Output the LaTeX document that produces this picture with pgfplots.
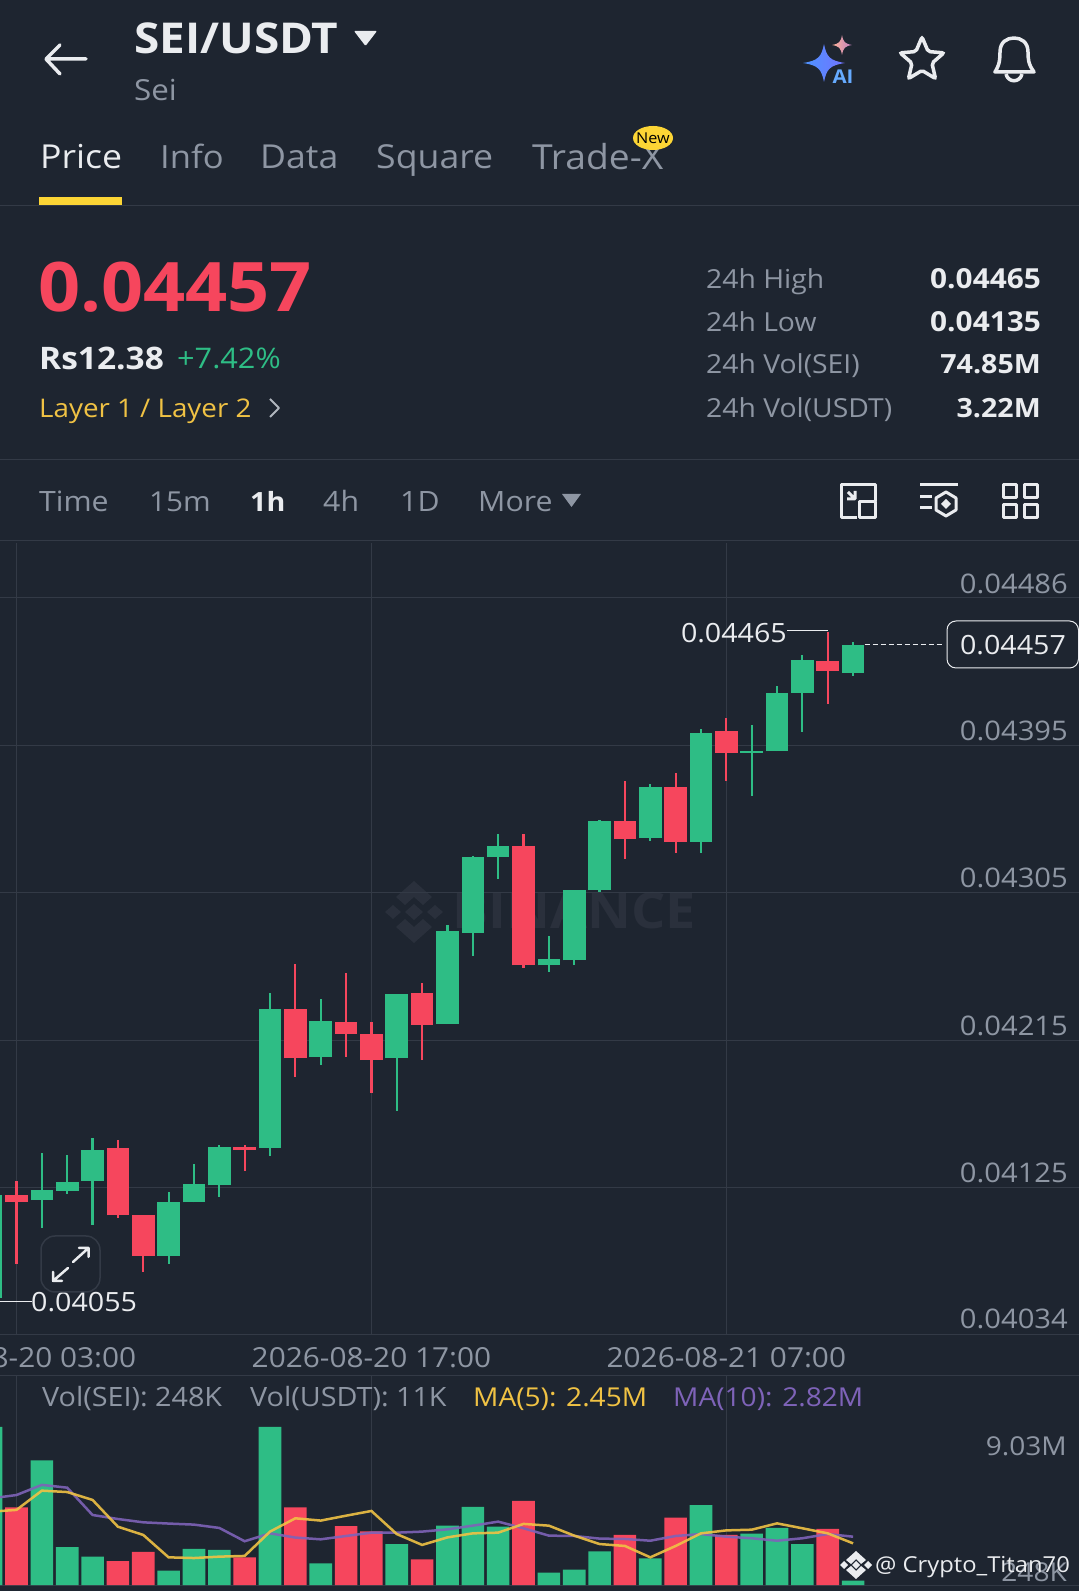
\documentclass[border=0pt]{standalone}
\usepackage{fontspec}
\setmainfont{Open Sans}[FakeStretch=1.08]
\usepackage{pgfplots}
\usepackage{pgfplotstable}
\pgfplotsset{compat=1.18}
\usetikzlibrary{shapes.geometric}
\definecolor{bg}{HTML}{1E2530}
\definecolor{gridc}{HTML}{333A46}
\definecolor{up}{HTML}{2EBD85}
\definecolor{dn}{HTML}{F6465D}
\definecolor{gr}{HTML}{8E96A3}
\definecolor{wh}{HTML}{EAECEF}
\definecolor{yel}{HTML}{FCD535}
\definecolor{gold}{HTML}{F0C244}
\definecolor{pur}{HTML}{7E63B8}
\definecolor{wm}{HTML}{2A303C}
\newcommand\txt[6]{\node[anchor=#1,inner sep=0pt,text=#5,font=\fontsize{#4}{#4}\selectfont] at (#2,{#3+0.357*#4}) {#6};}
\newcommand\btxt[6]{\node[anchor=#1,inner sep=0pt,text=#5,font=\fontsize{#4}{#4}\selectfont\bfseries] at (#2,{#3+0.357*#4}) {#6};}
\newcommand\spark[5]{\shade[#5] (#1,#2-#4) .. controls (#1+0.12*#3,#2-0.3*#4) and (#1+0.3*#3,#2-0.12*#4) .. (#1+#3,#2) .. controls (#1+0.3*#3,#2+0.12*#4) and (#1+0.12*#3,#2+0.3*#4) .. (#1,#2+#4) .. controls (#1-0.12*#3,#2+0.3*#4) and (#1-0.3*#3,#2+0.12*#4) .. (#1-#3,#2) .. controls (#1-0.3*#3,#2-0.12*#4) and (#1-0.12*#3,#2-0.3*#4) .. cycle;}
\pgfplotstableread{
i low bot top high
0 0.040550 0.040564 0.041199 0.041199
2 0.040994 0.041167 0.041228 0.041456
3 0.041206 0.041225 0.041276 0.041446
4 0.041016 0.041286 0.041475 0.041549
7 0.040776 0.040827 0.041154 0.041215
8 0.041154 0.041154 0.041266 0.041388
9 0.041186 0.041257 0.041494 0.041504
11 0.041436 0.041488 0.042337 0.042437
13 0.041997 0.042045 0.042267 0.042398
16 0.041715 0.042036 0.042430 0.042430
18 0.042247 0.042247 0.042818 0.042856
19 0.042667 0.042808 0.043270 0.043280
20 0.043139 0.043270 0.043341 0.043411
22 0.042568 0.042606 0.042648 0.042786
23 0.042610 0.042638 0.043071 0.043071
24 0.043058 0.043068 0.043491 0.043498
26 0.043369 0.043389 0.043703 0.043716
28 0.043296 0.043366 0.044030 0.044059
30 0.043648 0.043911 0.043924 0.044078
31 0.043921 0.043921 0.044280 0.044318
32 0.044039 0.044280 0.044482 0.044511
34 0.044379 0.044402 0.044570 0.044588
}\candleup
\pgfplotstableread{
i low bot top high
1 0.040776 0.041154 0.041199 0.041286
5 0.041058 0.041074 0.041488 0.041536
6 0.040725 0.040827 0.041074 0.041074
10 0.041343 0.041475 0.041494 0.041504
12 0.041924 0.042036 0.042337 0.042616
14 0.042045 0.042186 0.042257 0.042558
15 0.041827 0.042026 0.042186 0.042257
17 0.042026 0.042244 0.042437 0.042497
21 0.042590 0.042606 0.043341 0.043411
25 0.043257 0.043379 0.043491 0.043738
27 0.043296 0.043366 0.043703 0.043789
29 0.043738 0.043911 0.044043 0.044123
33 0.044209 0.044411 0.044472 0.044650
}\candledn
\pgfplotstableread{
i v
0 9.03
2 7.12
3 2.17
4 1.62
7 0.82
8 2.06
9 2.00
11 9.03
13 1.24
16 2.34
18 3.39
19 4.46
20 3.33
22 0.70
23 0.88
24 1.92
26 1.52
28 4.57
30 2.93
31 3.26
32 2.34
34 0.248
}\volup
\pgfplotstableread{
i v
1 4.44
5 1.37
6 1.89
10 1.58
12 4.44
14 3.37
15 3.07
17 1.47
21 4.80
25 2.86
27 3.85
29 2.86
33 3.20
}\voldn
\pgfplotstableread{
i ma5 ma10
0 4.19 4.95
1 4.29 5.14
2 5.39 5.72
3 5.31 5.56
4 4.86 4.00
5 3.33 3.77
6 2.86 3.58
7 1.58 3.51
8 1.54 3.45
9 1.62 3.26
10 1.66 2.50
11 3.05 2.95
12 3.81 2.71
13 3.68 2.61
14 3.96 2.80
15 4.23 2.99
16 2.91 2.99
17 2.29 3.05
18 2.72 3.18
19 2.95 3.39
20 2.99 3.62
21 3.49 3.24
22 3.39 2.82
23 2.82 2.80
24 2.34 2.65
25 2.23 2.63
26 1.58 2.53
27 2.23 2.80
28 2.95 2.91
29 3.12 2.76
30 3.16 2.67
31 3.52 2.53
32 3.24 2.67
33 2.95 2.91
34 2.38 2.76
}\mas
\begin{document}
\begin{tikzpicture}
\path[use as bounding box,clip] (0pt,0pt) rectangle (1079pt,1591pt);
\fill[bg] (0pt,0pt) rectangle (1079pt,1591pt);
\begin{scope}[shift={(0pt,1591pt)},x=1pt,y=-1pt]
% header
\draw[wh,line width=3.5,line cap=round,line join=round] (86,59)--(47,59) (60,45)--(46,59)--(60,74);
\btxt{base west}{134}{38}{42.5}{wh}{SEI/USDT}
\fill[wh,rounded corners=1pt] (354,31)--(377,31)--(365.5,46)--cycle;
\txt{base west}{134}{90}{29}{gr}{Sei}
\spark{824}{63}{21}{19}{left color=blue!60!cyan!70,right color=blue!55!white}
\spark{842}{45}{10}{10}{left color=pink!80!orange,right color=violet!50!white}
\btxt{base}{843}{77}{19}{blue!55!cyan!60!white}{AI}
\node[star,star points=5,star point ratio=2.2,minimum size=46pt,inner sep=0pt,draw=wh,line width=3.5pt,rounded corners=2pt] at (922,60) {};
\draw[wh,line width=3.5,line join=round] (995,72) .. controls (1000,64) and (1000,58) .. (1000,52) .. controls (1000,42) and (1007,38) .. (1014,38) .. controls (1021,38) and (1028,42) .. (1028,52) .. controls (1028,58) and (1028,64) .. (1034,72) -- cycle;
\draw[wh,line width=3.5] (1006,74) .. controls (1008,83) and (1020,83) .. (1022,74);
% tabs
\txt{base west}{40}{157}{33}{wh}{Price}
\txt{base west}{160}{157}{32}{gr}{Info}
\txt{base west}{260}{157}{33}{gr}{Data}
\txt{base west}{376}{157}{33}{gr}{Square}
\txt{base west}{532}{157}{34.5}{gr}{Trade-X}
\fill[yel] (653,138) ellipse [x radius=20,y radius=12];
\txt{base}{653}{138}{15}{black}{New}
\fill[yel] (39,197) rectangle (122,206);
\draw[gridc,line width=1] (0,206)--(1079,206);
% price block
\btxt{base west}{38}{287}{68.3}{dn}{0.04457}
\btxt{base west}{39}{358}{31}{wh}{Rs12.38}
\txt{base west}{177}{358}{28.4}{up}{+7.42\%}
\txt{base west}{39}{408}{25.7}{gold}{Layer 1 / Layer 2}
\draw[gr!70,line width=2,line join=round] (270,399)--(279,408)--(270,417);
\txt{base west}{706}{279}{26.2}{gr}{24h High}
\txt{base west}{706}{322}{26.2}{gr}{24h Low}
\txt{base west}{706}{364}{26.2}{gr}{24h Vol(SEI)}
\txt{base west}{706}{408}{26.2}{gr}{24h Vol(USDT)}
\btxt{base east}{1041}{279}{27.6}{wh}{0.04465}
\btxt{base east}{1041}{322}{27.6}{wh}{0.04135}
\btxt{base east}{1041}{364}{26.5}{wh}{74.85M}
\btxt{base east}{1041}{408}{26.5}{wh}{3.22M}
\draw[gridc,line width=1] (0,460)--(1079,460);
% timeframe
\txt{base west}{39}{502}{28}{gr}{Time}
\txt{base west}{149}{502}{27.5}{gr}{15m}
\btxt{base west}{250}{502}{26.5}{wh}{1h}
\txt{base west}{323}{502}{28}{gr}{4h}
\txt{base west}{400}{502}{28}{gr}{1D}
\txt{base west}{478}{502}{28}{gr}{More}
\fill[gr] (562,494)--(581,494)--(571.5,507)--cycle;
\begin{scope}[wh,line width=3,line join=round]
\draw (857,518)--(841,518)--(841,485)--(875,485)--(875,501);
\draw (859,502) rectangle (875,518);
\draw (848,492)--(855,499) (855,491)--(855,499)--(847,499);
\draw (920,485)--(958,485) (920,497)--(932,497) (920,508)--(932,508);
\draw (946,492)--(956,498)--(956,510)--(946,516)--(936,510)--(936,498)--cycle;
\fill (946,499)--(951,504)--(946,509)--(941,504)--cycle;
\draw (1003,485) rectangle (1016,498) (1024,485) rectangle (1037,498) (1003,505) rectangle (1016,518) (1024,505) rectangle (1037,518);
\end{scope}
\draw[gridc,line width=1] (0,541)--(1079,541);
% watermark
\begin{scope}[wm]
\fill (414,881)--(432,897)--(423,905)--(414,897)--(405,905)--(396,897)--cycle;
\fill (414,943)--(432,927)--(423,919)--(414,927)--(405,919)--(396,927)--cycle;
\fill (414,904)--(423,912)--(414,920)--(405,912)--cycle;
\fill (393,905)--(401,912)--(393,919)--(385,912)--cycle;
\fill (435,905)--(443,912)--(435,919)--(427,912)--cycle;
\end{scope}
\btxt{base west}{452}{911}{50}{wm}{BINANCE}
\end{scope}
% price axis (i = 0.349 at the left edge, 42.91 at the right edge)
\begin{axis}[at={(0pt,256pt)},anchor=south west,scale only axis,width=1079pt,height=792pt,
 xmin=0.349,xmax=42.91,ymin=0.04034,ymax=0.045197,
 clip=true,axis line style={draw=none},tick style={draw=none},
 xtick={1,15,29},xticklabels={2026-08-20 03:00,2026-08-20 17:00,2026-08-21 07:00},
 ytick={0.04034,0.041244,0.042148,0.043052,0.043956,0.04486},
 yticklabels={\raisebox{3pt}{0.04034},0.04125,0.04215,0.04305,0.04395,0.04486},
 scaled y ticks=false,yticklabel pos=right,
 tick label style={text=gr,font=\fontsize{27}{27}\selectfont,inner sep=0pt},
 yticklabel style={anchor=east,xshift=-11pt,yshift=14.5pt},
 xticklabel style={anchor=center,yshift=-23pt,font=\fontsize{27.6}{27.6}\selectfont},
 major tick length=0pt,xtick pos=lower,
 xmajorgrids,ymajorgrids,major grid style={gridc,line width=1pt}]
\pgfplotsset{
 candle/.style args={#1/#2}{forget plot,draw=none,mark=none,
  error bars/.cd,y dir=both,y explicit,error mark=none,
  error bar style={draw=#1,line width=#2}}}
\addplot[candle={up/2.2pt}] table[x=i,y=bot,y error plus expr=\thisrow{high}-\thisrow{bot},y error minus expr=\thisrow{bot}-\thisrow{low}] {\candleup};
\addplot[candle={dn/2.2pt}] table[x=i,y=bot,y error plus expr=\thisrow{high}-\thisrow{bot},y error minus expr=\thisrow{bot}-\thisrow{low}] {\candledn};
\addplot[candle={up/22.6pt}] table[x=i,y=bot,y error plus expr=\thisrow{top}-\thisrow{bot},y error minus expr=0] {\candleup};
\addplot[candle={dn/22.6pt}] table[x=i,y=bot,y error plus expr=\thisrow{top}-\thisrow{bot},y error minus expr=0] {\candledn};
\end{axis}
% volume axis
\begin{axis}[at={(0pt,6pt)},anchor=south west,scale only axis,width=1079pt,height=209pt,
 xmin=0.349,xmax=42.91,ymin=0,ymax=11.94,
 clip=true,axis line style={draw=none},tick style={draw=none},
 xtick={1,15,29},xticklabels={},ytick={0,11.94},yticklabels={},
 xmajorgrids,ymajorgrids,major grid style={gridc,line width=1pt}]
\addplot[ybar,bar width=22.6pt,bar shift=0pt,fill=up,draw=none] table[x=i,y=v] {\volup};
\addplot[ybar,bar width=22.6pt,bar shift=0pt,fill=dn,draw=none] table[x=i,y=v] {\voldn};
\addplot[pur,line width=2.5pt,opacity=.9,mark=none] table[x=i,y=ma10] {\mas};
\addplot[gold,line width=2.5pt,opacity=.9,mark=none] table[x=i,y=ma5] {\mas};
\end{axis}
\begin{scope}[shift={(0pt,1591pt)},x=1pt,y=-1pt]
% chart annotations
\draw[wh,line width=1] (787,631)--(827.5,631);
\txt{base east}{787}{632.6}{26.5}{wh}{0.04465}
\draw[wh,line width=1,dash pattern=on 5pt off 3pt] (864.5,645)--(943,645);
\draw[wh,line width=1,fill=bg,rounded corners=9] (947,621) rectangle (1078.5,668);
\txt{base}{1013}{645}{26.5}{wh}{0.04457}
\draw[wh,line width=1] (0,1301.5)--(32,1301.5);
\txt{base west}{31}{1302}{26.5}{wh}{0.04055}
\draw[gridc,line width=1.5,rounded corners=14] (41,1236) rectangle (100,1292);
\begin{scope}[wh,line width=2.5,line join=round,line cap=round]
\draw (73,1262)--(88.5,1248) (79,1248)--(88.5,1248)--(88.5,1257);
\draw (68,1268)--(53,1281) (53,1272)--(53,1281)--(62,1281);
\end{scope}
% volume legend
\txt{base west}{42}{1397}{26.6}{gr}{Vol(SEI): 248K}
\txt{base west}{250}{1397}{26.6}{gr}{Vol(USDT): 11K}
\txt{base west}{473}{1397}{26}{gold}{MA(5): 2.45M}
\txt{base west}{673}{1397}{26}{pur}{MA(10): 2.82M}
\txt{base east}{1067}{1446.7}{26}{gr}{9.03M}
\txt{base east}{1067}{1572}{26}{gr}{248K}
% author mark
\fill[wh] (856,1551)--(866,1560)--(861,1564)--(856,1559)--(851,1564)--(846,1560)--cycle;
\fill[wh] (856,1579)--(866,1570)--(861,1566)--(856,1571)--(851,1566)--(846,1570)--cycle;
\fill[wh] (856,1561)--(860,1565)--(856,1569)--(852,1565)--cycle;
\fill[wh] (844,1561)--(848,1565)--(844,1569)--(840,1565)--cycle;
\fill[wh] (868,1561)--(872,1565)--(868,1569)--(864,1565)--cycle;
\txt{base west}{875}{1565}{22}{wh}{@ Crypto\_Titan70}
\end{scope}
\end{tikzpicture}
\end{document}
